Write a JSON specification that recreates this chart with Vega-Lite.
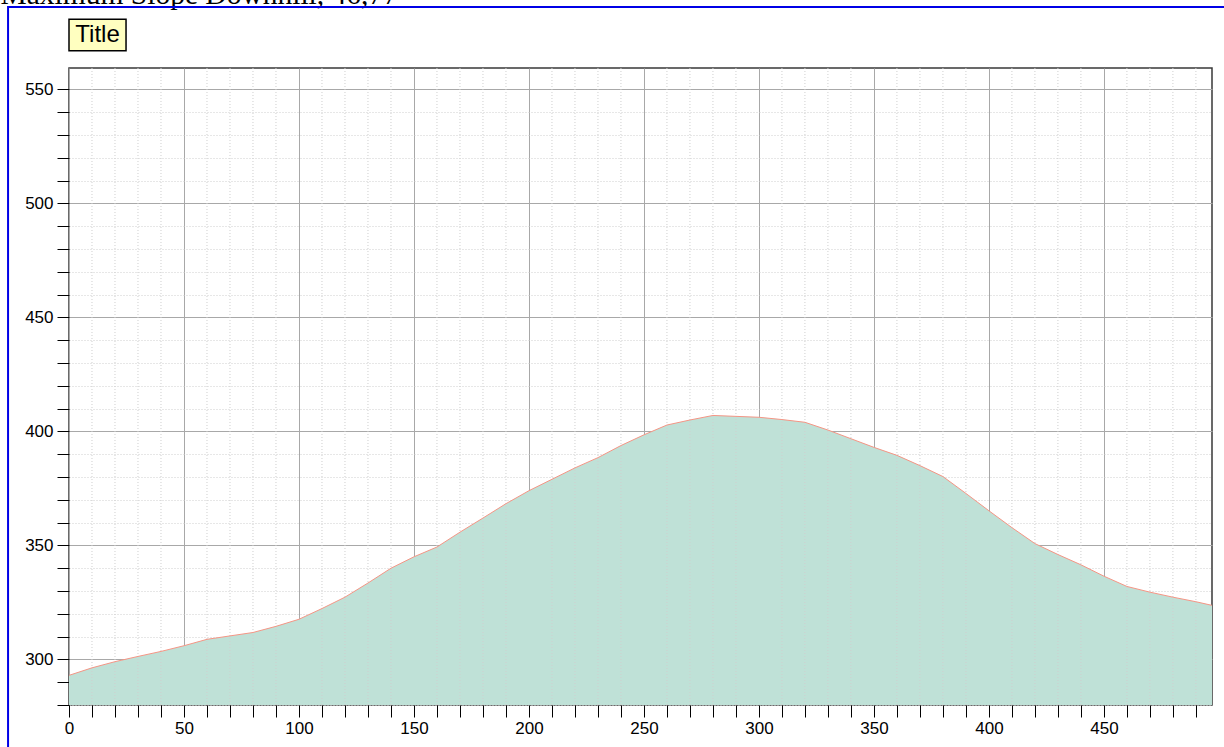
{
  "$schema": "https://vega.github.io/schema/vega-lite/v6.json",
  "width": 1143,
  "height": 637,
  "autosize": "none",
  "padding": {"left": 69, "top": 68, "right": 12, "bottom": 42},
  "background": "white",
  "config": {
    "view": {"stroke": "#383838", "strokeWidth": 1.5},
    "font": "Liberation Sans"
  },
  "datasets": {
    "profile": [
      {"d": 0, "elev": 293}, {"d": 10, "elev": 296.3}, {"d": 20, "elev": 299}, {"d": 30, "elev": 301.3},
      {"d": 40, "elev": 303.5}, {"d": 50, "elev": 306}, {"d": 60, "elev": 308.8}, {"d": 70, "elev": 310.3},
      {"d": 80, "elev": 311.8}, {"d": 90, "elev": 314.5}, {"d": 100, "elev": 317.6}, {"d": 110, "elev": 322.3},
      {"d": 120, "elev": 327.3}, {"d": 130, "elev": 333.5}, {"d": 140, "elev": 340}, {"d": 150, "elev": 345},
      {"d": 160, "elev": 349.3}, {"d": 170, "elev": 355.8}, {"d": 180, "elev": 362}, {"d": 190, "elev": 368.3},
      {"d": 200, "elev": 374}, {"d": 210, "elev": 379}, {"d": 220, "elev": 384}, {"d": 230, "elev": 388.5},
      {"d": 240, "elev": 393.8}, {"d": 250, "elev": 398.5}, {"d": 260, "elev": 402.8}, {"d": 270, "elev": 405},
      {"d": 280, "elev": 407}, {"d": 290, "elev": 406.6}, {"d": 300, "elev": 406.2}, {"d": 310, "elev": 405.2},
      {"d": 320, "elev": 404}, {"d": 330, "elev": 400.6}, {"d": 340, "elev": 396.8}, {"d": 350, "elev": 393},
      {"d": 360, "elev": 389.5}, {"d": 370, "elev": 385}, {"d": 380, "elev": 380.2}, {"d": 390, "elev": 372.8},
      {"d": 400, "elev": 365.2}, {"d": 410, "elev": 357.8}, {"d": 420, "elev": 350.8}, {"d": 430, "elev": 346},
      {"d": 440, "elev": 341.5}, {"d": 450, "elev": 336.5}, {"d": 460, "elev": 332}, {"d": 470, "elev": 329.5},
      {"d": 480, "elev": 327.3}, {"d": 490, "elev": 325.3}, {"d": 497, "elev": 323.7}
    ],
    "minorGridX": [
      {"g": 10}, {"g": 20}, {"g": 30}, {"g": 40}, {"g": 60}, {"g": 70}, {"g": 80}, {"g": 90},
      {"g": 110}, {"g": 120}, {"g": 130}, {"g": 140}, {"g": 160}, {"g": 170}, {"g": 180}, {"g": 190},
      {"g": 210}, {"g": 220}, {"g": 230}, {"g": 240}, {"g": 260}, {"g": 270}, {"g": 280}, {"g": 290},
      {"g": 310}, {"g": 320}, {"g": 330}, {"g": 340}, {"g": 360}, {"g": 370}, {"g": 380}, {"g": 390},
      {"g": 410}, {"g": 420}, {"g": 430}, {"g": 440}, {"g": 460}, {"g": 470}, {"g": 480}, {"g": 490}
    ]
  },
  "resolve": {"axis": {"x": "independent", "y": "independent"}},
  "layer": [
    {
      "data": {"name": "profile"},
      "mark": {"type": "area", "fill": "#BFE1D7", "opacity": 1, "clip": true},
      "encoding": {
        "x": {
          "field": "d",
          "type": "quantitative",
          "scale": {"domain": [0, 497], "nice": false, "zero": false},
          "axis": {
            "orient": "bottom",
            "title": null,
            "values": [0, 50, 100, 150, 200, 250, 300, 350, 400, 450],
            "format": "d",
            "grid": true,
            "gridColor": "#A8A8A8",
            "gridWidth": 1,
            "domain": false,
            "tickSize": 12,
            "tickColor": "#000000",
            "tickWidth": 1,
            "labelFont": "Liberation Sans",
            "labelFontSize": 17,
            "labelColor": "#000000",
            "labelPadding": 3,
            "labelFlush": false,
            "labelOverlap": false
          }
        },
        "y": {
          "field": "elev",
          "type": "quantitative",
          "scale": {"domain": [280, 559.4], "nice": false, "zero": false},
          "axis": {
            "orient": "left",
            "title": "Maximum Slope Downhill, 46,77",
            "titleX": -69,
            "titleY": -65,
            "titleAngle": 0,
            "titleAlign": "left",
            "titleBaseline": "alphabetic",
            "titleFont": "Liberation Serif",
            "titleFontSize": 29.5,
            "titleFontWeight": "normal",
            "titleColor": "#000000",
            "values": [300, 350, 400, 450, 500, 550],
            "format": "d",
            "grid": true,
            "gridColor": "#A8A8A8",
            "gridWidth": 1,
            "domain": false,
            "tickSize": 12,
            "tickColor": "#000000",
            "tickWidth": 1,
            "labelFont": "Liberation Sans",
            "labelFontSize": 17,
            "labelColor": "#000000",
            "labelPadding": 4,
            "labelFlush": false,
            "labelOverlap": false
          }
        },
        "y2": {"datum": 280}
      }
    },
    {
      "data": {"name": "minorGridX"},
      "mark": {"type": "rule", "color": "#CFCFCF", "strokeWidth": 1, "strokeDash": [1, 2]},
      "encoding": {
        "x": {"field": "g", "type": "quantitative", "axis": null}
      }
    },
    {
      "data": {"name": "profile"},
      "mark": {"type": "line", "color": "#F59585", "strokeWidth": 1, "clip": true},
      "encoding": {
        "x": {
          "field": "d",
          "type": "quantitative",
          "axis": {
            "orient": "bottom",
            "title": null,
            "values": [10,20,30,40,60,70,80,90,110,120,130,140,160,170,180,190,210,220,230,240,260,270,280,290,310,320,330,340,360,370,380,390,410,420,430,440,460,470,480,490],
            "labels": false,
            "grid": false,
            "domain": false,
            "tickSize": 12,
            "tickColor": "#000000",
            "tickWidth": 1
          }
        },
        "y": {
          "field": "elev",
          "type": "quantitative",
          "axis": {
            "orient": "left",
            "title": null,
            "values": [280,290,310,320,330,340,360,370,380,390,410,420,430,440,460,470,480,490,510,520,530,540],
            "labels": false,
            "grid": true,
            "gridColor": "#CFCFCF",
            "gridDash": [1, 2],
            "gridWidth": 1,
            "domain": false,
            "tickSize": 12,
            "tickColor": "#000000",
            "tickWidth": 1
          }
        }
      }
    },
    {
      "data": {"values": [{}]},
      "mark": {"type": "rect", "fill": "transparent", "stroke": "#0000E6", "strokeWidth": 2, "clip": false},
      "encoding": {
        "x": {"datum": -26.5, "type": "quantitative", "axis": null},
        "x2": {"datum": 506},
        "y": {"datum": 586.2, "type": "quantitative", "axis": null},
        "y2": {"datum": 250}
      }
    },
    {
      "data": {"values": [{}]},
      "mark": {"type": "rect", "fill": "#FFFFC0", "stroke": "#000000", "strokeWidth": 1.5, "clip": false},
      "encoding": {
        "x": {"datum": 0, "type": "quantitative", "axis": null},
        "x2": {"datum": 24.8},
        "y": {"datum": 580.8, "type": "quantitative", "axis": null},
        "y2": {"datum": 567.0}
      }
    },
    {
      "data": {"values": [{}]},
      "mark": {"type": "text", "text": "Title", "font": "Liberation Sans", "fontSize": 24, "color": "#000000", "align": "center", "baseline": "middle", "clip": false},
      "encoding": {
        "x": {"datum": 12.4, "type": "quantitative", "axis": null},
        "y": {"datum": 573.9, "type": "quantitative", "axis": null}
      }
    }
  ]
}
